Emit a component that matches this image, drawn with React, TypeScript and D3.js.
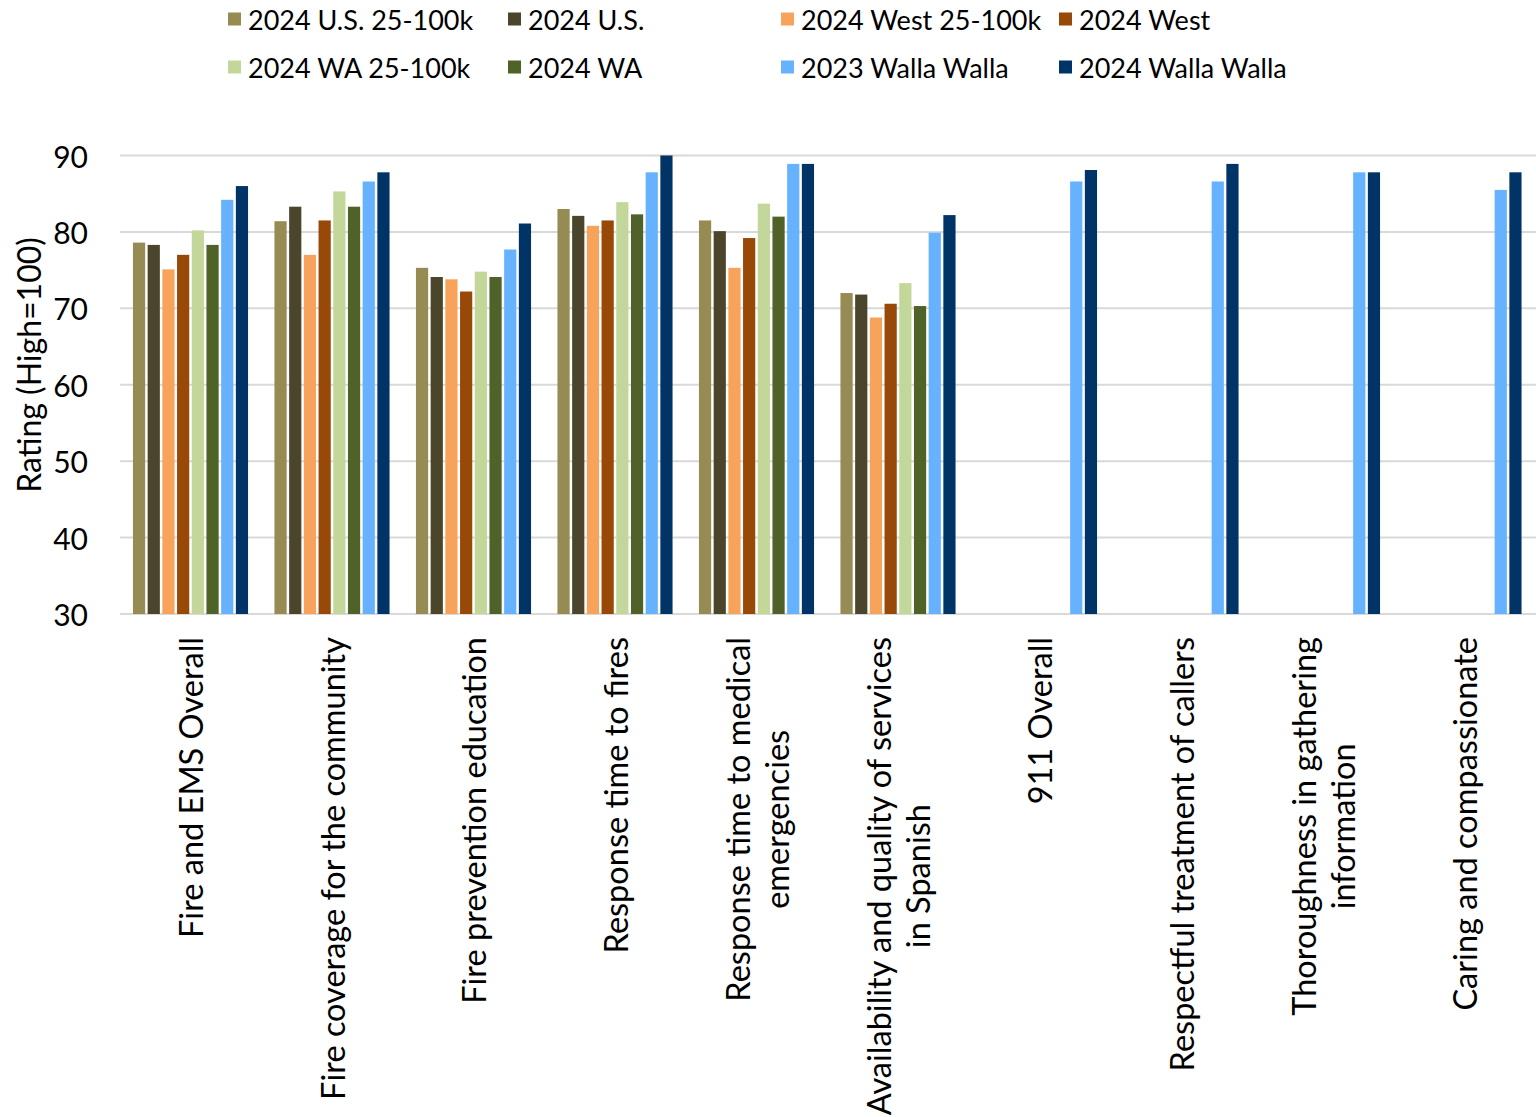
import React, { useEffect, useRef } from "react";
import * as d3 from "d3";

const categories: string[][] = [
  ["Fire and EMS Overall"],
  ["Fire coverage for the community"],
  ["Fire prevention education"],
  ["Response time to fires"],
  ["Response time to medical", "emergencies"],
  ["Availability and quality of services", "in Spanish"],
  ["911 Overall"],
  ["Respectful treatment of callers"],
  ["Thoroughness in gathering", "information"],
  ["Caring and compassionate"],
];

const seriesNames = [
  "2024 U.S. 25-100k",
  "2024 U.S.",
  "2024 West 25-100k",
  "2024 West",
  "2024 WA 25-100k",
  "2024 WA",
  "2023 Walla Walla",
  "2024 Walla Walla",
];

const seriesColors = ["#968B53", "#4B452B", "#F7A35C", "#984807", "#C4D79B", "#4F6228", "#66B2FF", "#003366"];

const us25: (number | null)[] = [78.6, 81.4, 75.3, 83.0, 81.5, 72.0, null, null, null, null];
const us: (number | null)[] = [78.3, 83.3, 74.1, 82.1, 80.1, 71.8, null, null, null, null];
const west25: (number | null)[] = [75.1, 77.0, 73.8, 80.8, 75.3, 68.8, null, null, null, null];
const west: (number | null)[] = [77.0, 81.5, 72.2, 81.5, 79.2, 70.6, null, null, null, null];
const wa25: (number | null)[] = [80.2, 85.3, 74.8, 83.9, 83.7, 73.3, null, null, null, null];
const wa: (number | null)[] = [78.3, 83.3, 74.1, 82.3, 82.0, 70.3, null, null, null, null];
const ww2023: (number | null)[] = [84.2, 86.6, 77.7, 87.8, 88.9, 79.9, 86.6, 86.6, 87.8, 85.5];
const ww2024: (number | null)[] = [86.0, 87.8, 81.1, 90.0, 88.9, 82.2, 88.1, 88.9, 87.8, 87.8];

const seriesValues = [us25, us, west25, west, wa25, wa, ww2023, ww2024];

const yTicks = [30, 40, 50, 60, 70, 80, 90];

const FONT = "Lato, 'Open Sans', sans-serif";

export default function App() {
  const ref = useRef<SVGSVGElement>(null);

  useEffect(() => {
    const svg = d3.select(ref.current);
    svg.selectAll("*").remove();

    const left = 120, right = 1535, top = 155.5, bottom = 614;
    const y = d3.scaleLinear().domain([30, 90]).range([bottom, top]);
    const catKeys = categories.map((c) => c.join(" "));
    const x0 = d3.scaleBand<string>().domain(catKeys).range([left, right]);
    const groupW = 117.6;
    const x1 = d3.scaleBand<string>().domain(seriesNames).range([0, groupW]);
    const off = (x0.bandwidth() - groupW) / 2;

    // gridlines
    svg.append("g")
      .selectAll("line")
      .data(yTicks)
      .join("line")
      .attr("x1", left)
      .attr("x2", 1536)
      .attr("y1", (d) => y(d))
      .attr("y2", (d) => y(d))
      .attr("stroke", "#D9D9D9")
      .attr("stroke-width", 2);

    // y tick labels
    svg.append("g")
      .selectAll("text")
      .data(yTicks)
      .join("text")
      .attr("x", 88)
      .attr("y", (d) => y(d))
      .attr("text-anchor", "end")
      .attr("dominant-baseline", "central")
      .attr("font-family", FONT)
      .attr("font-size", 30)
      .attr("fill", "#000")
      .text((d) => String(d));

    // y title
    svg.append("text")
      .attr("transform", `translate(28,365) rotate(-90)`)
      .attr("text-anchor", "middle")
      .attr("dominant-baseline", "central")
      .attr("font-family", FONT)
      .attr("font-size", 32)
      .attr("fill", "#000")
      .text("Rating (High=100)");

    // bars
    const data: { cat: string; s: string; v: number; color: string }[] = [];
    catKeys.forEach((cat, ci) => {
      seriesNames.forEach((s, si) => {
        const v = seriesValues[si][ci];
        if (v !== null && v !== undefined) data.push({ cat, s, v, color: seriesColors[si] });
      });
    });
    svg.append("g")
      .selectAll("rect")
      .data(data)
      .join("rect")
      .attr("x", (d) => (x0(d.cat) as number) + off + (x1(d.s) as number) + 1)
      .attr("width", x1.bandwidth() - 2.5)
      .attr("y", (d) => y(d.v))
      .attr("height", (d) => y(30) - y(d.v))
      .attr("fill", (d) => d.color);

    // category labels
    const labelTop = 637;
    const lineH = 39;
    const fs = 32.5;
    categories.forEach((lines, ci) => {
      const cx = (x0(catKeys[ci]) as number) + x0.bandwidth() / 2;
      const g = svg.append("g");
      const texts = lines.map((ln) =>
        g.append("text")
          .attr("font-family", FONT)
          .attr("font-size", fs)
          .attr("fill", "#000")
          .attr("text-anchor", "middle")
          .attr("dominant-baseline", "central")
          .text(ln)
      );
      const lens = texts.map((t) => (t.node() as SVGTextElement).getComputedTextLength());
      const maxLen = Math.max(...lens);
      const cy = labelTop + maxLen / 2;
      texts.forEach((t, i) => {
        const lx = cx + (i - (lines.length - 1) / 2) * lineH;
        t.attr("transform", `translate(${lx},${cy}) rotate(-90)`);
      });
    });

    // legend
    const legendPos = [
      [228, 19], [508, 19], [781, 19], [1059, 19],
      [228, 67], [508, 67], [781, 67], [1059, 67],
    ];
    const legendOrder = [0, 1, 2, 3, 4, 5, 6, 7];
    const lg = svg.append("g");
    legendOrder.forEach((si, k) => {
      const [lx, ly] = legendPos[k];
      lg.append("rect")
        .attr("x", lx)
        .attr("y", ly - 6.5)
        .attr("width", 13)
        .attr("height", 13)
        .attr("fill", seriesColors[si]);
      lg.append("text")
        .attr("x", lx + 20)
        .attr("y", ly)
        .attr("dominant-baseline", "central")
        .attr("font-family", FONT)
        .attr("font-size", 27)
        .attr("fill", "#000")
        .text(seriesNames[si]);
    });
  }, []);

  return (
    <svg
      ref={ref}
      width={1536}
      height={1117}
      style={{ position: "absolute", left: 0, top: 0, background: "#fff" }}
    />
  );
}
